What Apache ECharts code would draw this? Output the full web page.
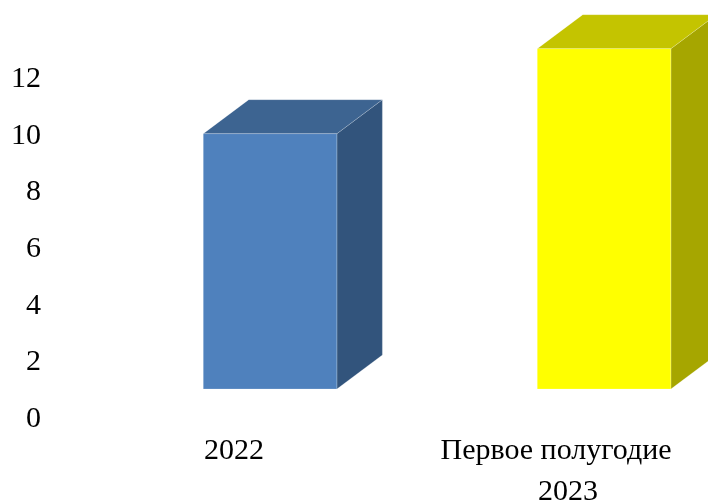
<!DOCTYPE html>
<html>
<head>
<meta charset="utf-8">
<style>
  html, body { margin: 0; padding: 0; background: #ffffff; overflow: hidden; }
  #chart { width: 708px; height: 502px; }
</style>
<script src="https://cdn.jsdelivr.net/npm/echarts@6/dist/echarts.min.js"></script>
</head>
<body>
<div id="chart"></div>
<script>
// Categories and their values
const categories = ['2022', 'Первое полугодие\n2023'];
const values = [10, 13];
const yTicks = [0, 2, 4, 6, 8, 10, 12];

// Face colours of each box: front, top, side
const faceColors = [
  { front: '#4F81BD', top: '#3D6491', side: '#32547C' },
  { front: '#FFFF00', top: '#C4C400', side: '#A6A600' }
];

const FONT = '"Liberation Serif", "Times New Roman", serif';

// Box geometry in pixels
const DEPTH_X = 45.5;
const DEPTH_Y = -34;
const FLOOR_LIFT = 28;
const BAR_SHIFT = 0.108;   // share of the band
const BAR_WIDTH = 0.4;     // share of the band

const chart = echarts.init(document.getElementById('chart'), null, { renderer: 'canvas' });

function renderBox(params, api) {
  const idx = api.value(0);
  const v = api.value(1);
  const band = api.size([1, 0])[0];
  const top = api.coord([idx, v]);
  const base = api.coord([idx, 0]);
  const w = band * BAR_WIDTH;
  const cx = top[0] + band * BAR_SHIFT;
  const xl = cx - w / 2;
  const xr = cx + w / 2;
  const yt = top[1];
  const yb = base[1] - FLOOR_LIFT;
  const c = faceColors[params.dataIndex];
  const edge = { stroke: 'rgba(255,255,255,0.25)', lineWidth: 0.8 };
  return {
    type: 'group',
    children: [
      {
        type: 'polygon',
        shape: { points: [[xr, yt], [xr + DEPTH_X, yt + DEPTH_Y], [xr + DEPTH_X, yb + DEPTH_Y], [xr, yb]] },
        style: Object.assign({ fill: c.side }, edge)
      },
      {
        type: 'polygon',
        shape: { points: [[xl, yt], [xl + DEPTH_X, yt + DEPTH_Y], [xr + DEPTH_X, yt + DEPTH_Y], [xr, yt]] },
        style: Object.assign({ fill: c.top }, edge)
      },
      {
        type: 'polygon',
        shape: { points: [[xl, yt], [xr, yt], [xr, yb], [xl, yb]] },
        style: Object.assign({ fill: c.front }, edge)
      }
    ]
  };
}

// Two-line category names: the first line sits a little to the left
function categoryLabel(value) {
  const lines = value.split('\n');
  if (lines.length < 2) return '{one|' + value + '}';
  return '{first|' + lines[0] + '}\n{second|' + lines.slice(1).join(' ') + '}';
}

const labelText = { fontFamily: FONT, fontSize: 30, lineHeight: 41, color: '#000000' };
const tickText = { fontFamily: FONT, fontSize: 30, color: '#000000' };

chart.setOption({
  animation: false,
  backgroundColor: '#ffffff',
  grid: {
    left: 67, top: 77, width: 668, height: 340,
    containLabel: false,
    outerBoundsMode: 'none'
  },
  xAxis: {
    type: 'category',
    data: categories,
    axisLine: { show: false },
    axisTick: { show: false },
    splitLine: { show: false },
    axisLabel: Object.assign({
      interval: 0,
      margin: 14,
      formatter: categoryLabel,
      rich: {
        one: Object.assign({}, labelText),
        first: Object.assign({ padding: [0, 24, 0, 0] }, labelText),
        second: Object.assign({}, labelText)
      }
    }, labelText)
  },
  yAxis: {
    type: 'value',
    min: yTicks[0],
    max: yTicks[yTicks.length - 1],
    interval: 2,
    axisLine: { show: false },
    axisTick: { show: false },
    splitLine: { show: false },
    axisLabel: Object.assign({
      margin: 26,
      formatter: function (v) { return '{t|' + v + '}'; },
      rich: { t: Object.assign({ padding: [4, 0, 0, 0] }, tickText) }
    }, tickText)
  },
  series: [{
    type: 'custom',
    clip: false,
    renderItem: renderBox,
    data: values.map((v, i) => [i, v])
  }]
});
</script>
</body>
</html>
